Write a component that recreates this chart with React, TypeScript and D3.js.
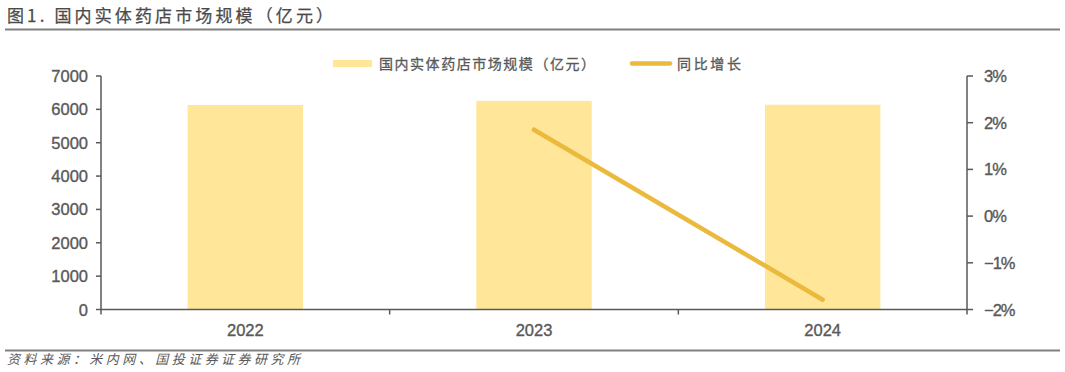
import React from "react";
import * as d3 from "d3";

const categories = ["2022", "2023", "2024"];
const marketSize = [6130, 6255, 6140];
const growth: (number | null)[] = [null, 1.85, -1.79];
const leftTicks = [0, 1000, 2000, 3000, 4000, 5000, 6000, 7000];
const rightTicks = [-2, -1, 0, 1, 2, 3];
const titleText = "图1. 国内实体药店市场规模（亿元）";
const legendBar = "国内实体药店市场规模（亿元）";
const legendLine = "同比增长";
const sourceText = "资料来源：米内网、国投证券证券研究所";

const W = 1065, H = 372;
const left = 101, right = 967, top = 76, bottom = 309.5;
const axisColor = "#595959";
const barColor = "#FFE699";
const lineColor = "#EBB93B";
const textColor = "#595959";
const cjk = "'Noto Sans CJK SC', 'Noto Sans', sans-serif";
const latin = "'Liberation Sans', Arial, sans-serif";

export default function App() {
  const x = d3.scaleBand<string>().domain(categories).range([left, right]).paddingInner(0).paddingOuter(0);
  const yL = d3.scaleLinear().domain([0, 7000]).range([bottom, top]);
  const yR = d3.scaleLinear().domain([-2, 3]).range([bottom, top]);
  const barW = x.bandwidth() * 0.4;
  const lineGen = d3
    .line<number | null>()
    .defined((d) => d !== null)
    .x((_, i) => (x(categories[i]) as number) + x.bandwidth() / 2)
    .y((d) => yR(d as number));
  const boundaries = [...categories.map((c) => x(c) as number), right];
  const numStyle = { stroke: textColor, strokeWidth: 0.35 };

  return (
    <svg width={W} height={H} style={{ position: "absolute", left: 0, top: 0, background: "#fff" }}>
      <text x={7} y={22} fontFamily={cjk} fontSize={17} fill="#4a4a4a" stroke="#4a4a4a" strokeWidth={0.25} textLength={326} lengthAdjust="spacing">
        {titleText}
      </text>
      <line x1={5} x2={1060} y1={29.5} y2={29.5} stroke="#808080" strokeWidth={2} />

      {/* legend */}
      <rect x={333} y={60} width={39} height={7} fill={barColor} />
      <text x={379} y={68.5} fontFamily={cjk} fontSize={14} fill={textColor} stroke={textColor} strokeWidth={0.3} textLength={216} lengthAdjust="spacing">
        {legendBar}
      </text>
      <line x1={632} x2={670} y1={63.5} y2={63.5} stroke={lineColor} strokeWidth={4.5} strokeLinecap="round" />
      <text x={677} y={68.5} fontFamily={cjk} fontSize={14} fill={textColor} stroke={textColor} strokeWidth={0.3} textLength={64} lengthAdjust="spacing">
        {legendLine}
      </text>

      {/* bars */}
      {categories.map((c, i) => (
        <rect
          key={c}
          x={(x(c) as number) + (x.bandwidth() - barW) / 2}
          y={yL(marketSize[i])}
          width={barW}
          height={bottom - yL(marketSize[i])}
          fill={barColor}
        />
      ))}

      {/* line */}
      <path d={lineGen(growth) || ""} fill="none" stroke={lineColor} strokeWidth={4.5} strokeLinecap="round" />

      {/* left axis */}
      <line x1={left} x2={left} y1={top} y2={bottom} stroke={axisColor} strokeWidth={1.5} />
      {leftTicks.map((t) => (
        <g key={t}>
          <line x1={left - 5} x2={left} y1={yL(t)} y2={yL(t)} stroke={axisColor} strokeWidth={1.5} />
          <text x={88} y={yL(t) + 6} textAnchor="end" fontFamily={latin} fontSize={16.5} fill={textColor} {...numStyle}>
            {t}
          </text>
        </g>
      ))}

      {/* right axis */}
      <line x1={right} x2={right} y1={top} y2={bottom} stroke={axisColor} strokeWidth={1.5} />
      {rightTicks.map((t) => (
        <g key={t}>
          <line x1={right} x2={right + 6} y1={yR(t)} y2={yR(t)} stroke={axisColor} strokeWidth={1.5} />
          <text x={984} y={yR(t) + 6} fontFamily={latin} fontSize={16.5} fill={textColor} letterSpacing={-1} {...numStyle}>
            {(t < 0 ? "\u2212" + Math.abs(t) : String(t)) + "%"}
          </text>
        </g>
      ))}

      {/* bottom axis */}
      <line x1={left} x2={right} y1={bottom} y2={bottom} stroke={axisColor} strokeWidth={1.5} />
      {boundaries.map((b, i) => (
        <line key={i} x1={b} x2={b} y1={bottom} y2={bottom + 5} stroke={axisColor} strokeWidth={1.5} />
      ))}
      {categories.map((c) => (
        <text key={c} x={(x(c) as number) + x.bandwidth() / 2} y={336} textAnchor="middle" fontFamily={latin} fontSize={16.5} fill={textColor} {...numStyle}>
          {c}
        </text>
      ))}

      <line x1={5} x2={1060} y1={350.5} y2={350.5} stroke="#808080" strokeWidth={2} />
      <text x={7} y={364} fontFamily={cjk} fontSize={13} fontStyle="italic" fill={textColor} textLength={293} lengthAdjust="spacing">
        {sourceText}
      </text>
    </svg>
  );
}
